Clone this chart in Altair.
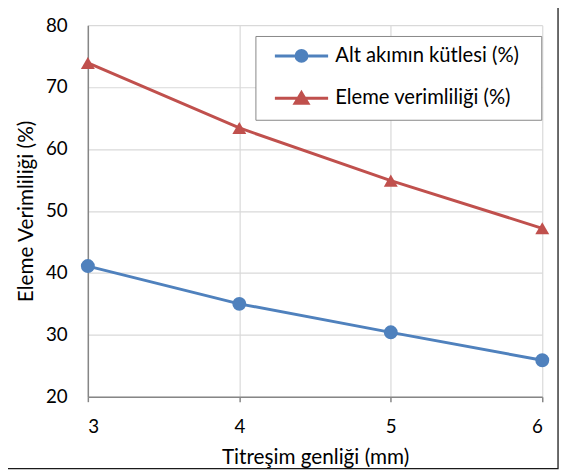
import altair as alt
import pandas as pd

x_vals = [3, 4, 5, 6]
alt_akim = [41.1, 35.0, 30.4, 25.9]
eleme = [73.9, 63.4, 54.9, 47.2]
series_names = ["Alt akımın kütlesi (%)", "Eleme verimliliği (%)"]
colors = ["#4F81BD", "#C0504D"]
shapes = ["circle", "triangle-up"]
y_ticks = [20, 30, 40, 50, 60, 70, 80]

rows = []
for xv, yv in zip(x_vals, alt_akim):
    rows.append({"x": xv, "y": yv, "seri": series_names[0]})
for xv, yv in zip(x_vals, eleme):
    rows.append({"x": xv, "y": yv, "seri": series_names[1]})
df = pd.DataFrame(rows)

FONT = "Lato"
circ_path = "M-5.4,0L5.4,0M1.1,0A1.1,1.1 0 1,1 -1.1,0A1.1,1.1 0 1,1 1.1,0Z"
tri_path = "M-5.4,0L5.4,0M0,-1.15L1.3,1L-1.3,1Z"
shape_expr = (
    "datum.value === '" + series_names[0] + "' ? '" + circ_path + "' : '" + tri_path + "'"
)
fill_expr = "scale('color', datum.value)"

x_enc = alt.X(
    "x:Q",
    scale=alt.Scale(domain=[3, 6], nice=False),
    axis=alt.Axis(
        values=x_vals, format="d", title="Titreşim genliği (mm)",
        tickSize=5, tickColor="#868686", tickWidth=1.5,
        domainColor="#868686", domainWidth=1.5,
        gridColor="#D9D9D9", gridWidth=1.2,
        labelPadding=16, titlePadding=11,
    ),
)
y_enc = alt.Y(
    "y:Q",
    scale=alt.Scale(domain=[20, 80], nice=False),
    axis=alt.Axis(
        values=y_ticks, title="Eleme Verimliliği (%)", ticks=False,
        domainColor="#868686", domainWidth=1.5,
        gridColor="#D9D9D9", gridWidth=1.2,
        labelPadding=21, titlePadding=9,
    ),
)
color_scale = alt.Scale(domain=series_names, range=colors)
color_enc = alt.Color(
    "seri:N",
    scale=color_scale,
    legend=alt.Legend(
        title=" ", titleOrient="right", titleFontSize=1, titlePadding=12,
        orient="none", legendX=170, legendY=11,
        strokeColor="#868686", fillColor="#FFFFFF", padding=10,
        labelFontSize=20.5, labelFont=FONT, labelColor="#000000",
        symbolSize=100, symbolStrokeWidth=3,
        symbolType={"expr": shape_expr},
        symbolFillColor={"expr": fill_expr},
        symbolStrokeColor={"expr": fill_expr},
        symbolOpacity=1,
        symbolOffset=26.5, labelOffset=24, rowPadding=19,
        labelLimit=400,
    ),
)

base = alt.Chart(df)
lines = base.mark_line(strokeWidth=3).encode(x=x_enc, y=y_enc, color=color_enc)
pts_color = alt.Color("seri:N", scale=color_scale, legend=None)
circles = base.transform_filter(
    alt.datum.seri == series_names[0]
).mark_point(filled=True, size=200, opacity=1, shape=shapes[0]).encode(
    x=x_enc, y=y_enc, color=pts_color
)
triangles = base.transform_filter(
    alt.datum.seri == series_names[1]
).mark_point(filled=True, size=200, opacity=1, shape=shapes[1]).encode(
    x=x_enc, y=y_enc, color=pts_color
)
frame = alt.Chart(pd.DataFrame({"a": [0]})).mark_rect(
    filled=False, stroke="#1a1a1a", strokeWidth=1.3
).encode(
    x=alt.value(-86), x2=alt.value(477), y=alt.value(-18), y2=alt.value(450)
)

chart = alt.layer(lines, circles, triangles, frame).properties(
    width=461, height=377,
    autosize=alt.AutoSizeParams(type="none"),
    padding={"left": 81, "top": 14, "right": 18, "bottom": 77},
).configure_view(stroke=None).configure_axis(
    labelFont=FONT, titleFont=FONT, labelFontSize=19, titleFontSize=21,
    labelColor="#000000", titleColor="#000000", titleFontWeight="normal",
)

chart.save("out.html", embed_options={"renderer": "svg", "actions": False})
